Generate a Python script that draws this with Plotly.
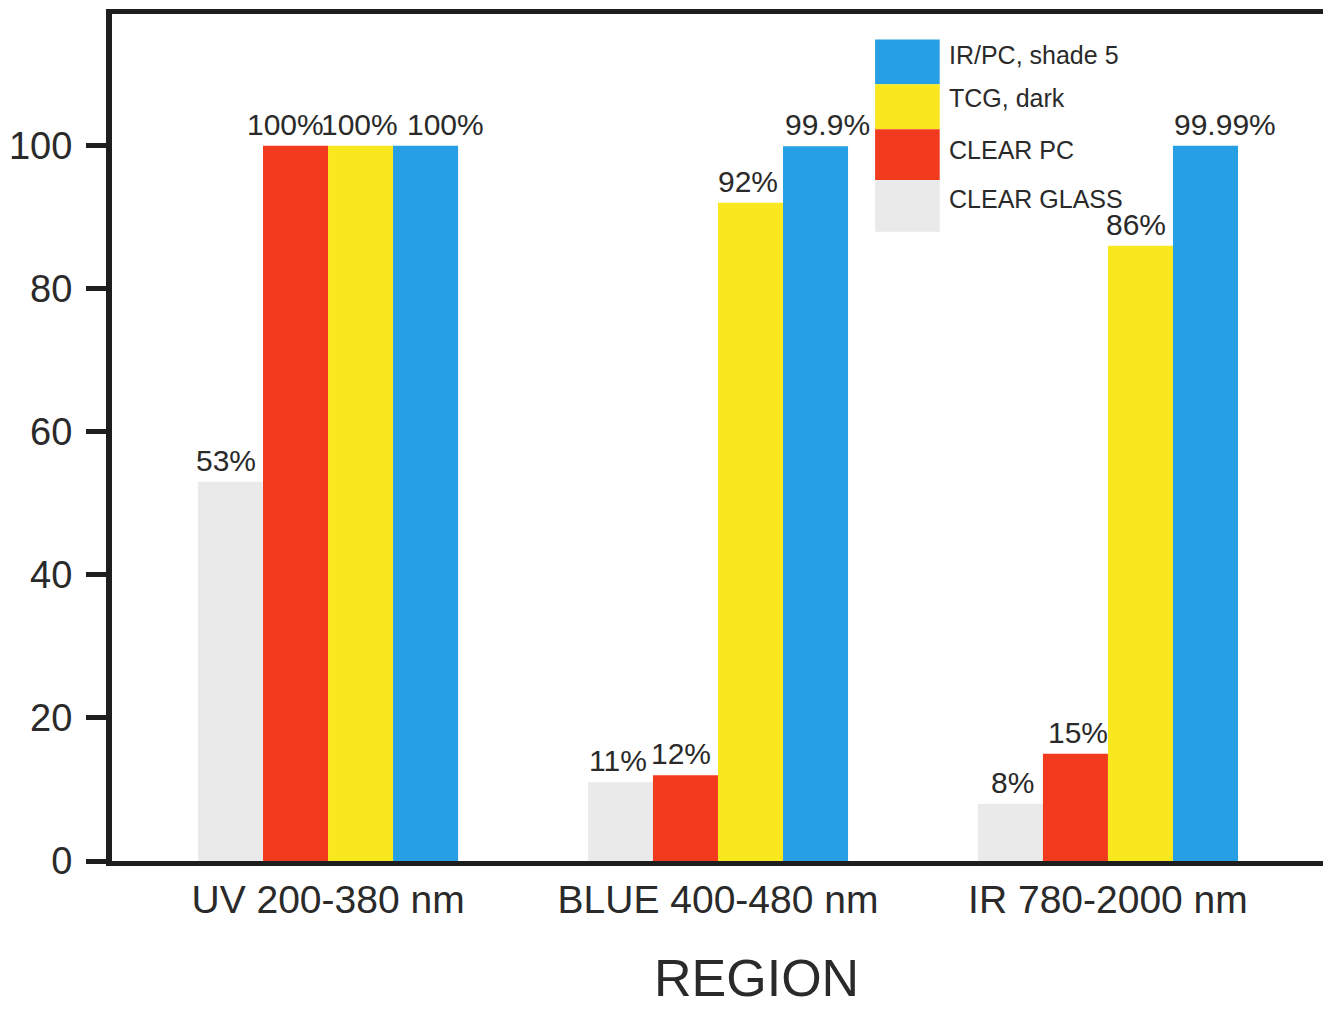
import plotly.graph_objects as go

categories = ["UV 200-380 nm", "BLUE 400-480 nm", "IR 780-2000 nm"]
series_names = ["CLEAR GLASS", "CLEAR PC", "TCG, dark", "IR/PC, shade 5"]
clear_glass = [53, 11, 8]
clear_pc = [100, 12, 15]
tcg_dark = [100, 92, 86]
ir_pc = [100, 99.9, 99.99]
y_ticks = [0, 20, 40, 60, 80, 100]

colors = ["#EAEAEA", "#F23A1E", "#F9E81E", "#269FE4"]
values = [clear_glass, clear_pc, tcg_dark, ir_pc]

# horizontal nudges (px) of value labels, per series, per category
label_nudge = [[-5, -2, 2], [-10, -4, 3], [-1, -3, -4], [20, 12, 20]]

FONT = "Liberation Sans, Arial, sans-serif"
TXT = "#2a2a2a"
AX = "#1e1e1e"

X_RANGE = [-0.554, 2.572]
PLOT_W = 1219
BARGAP = 0.333
px_per_cat = PLOT_W / (X_RANGE[1] - X_RANGE[0])
bar_px = px_per_cat * (1 - BARGAP) / len(series_names)

fig = go.Figure()
for name, vals, col in zip(series_names, values, colors):
    fig.add_trace(go.Bar(
        x=categories, y=vals, name=name,
        marker=dict(color=col, line=dict(width=0)),
        showlegend=False, hoverinfo="x+y+name",
    ))

# value labels
n = len(series_names)
for i, vals in enumerate(values):
    for j, v in enumerate(vals):
        fig.add_annotation(
            x=categories[j], y=v, xref="x", yref="y",
            text=f"{v:g}%", showarrow=False,
            xanchor="center", yanchor="bottom",
            xshift=(i - (n - 1) / 2) * bar_px + label_nudge[i][j], yshift=3,
            font=dict(family=FONT, size=30, color=TXT),
        )

# custom legend (large stacked swatches, reversed order)
sw_x0, sw_x1 = 0.626, 0.679
sw_edges = [0.970, 0.917, 0.864, 0.804, 0.743]
txt_y = [0.952, 0.901, 0.840, 0.781]
for i, (name, col) in enumerate(zip(series_names[::-1], colors[::-1])):
    y1, y0 = sw_edges[i], sw_edges[i + 1]
    fig.add_shape(type="rect", xref="paper", yref="paper",
                  x0=sw_x0, x1=sw_x1, y0=y0, y1=y1,
                  fillcolor=col, line=dict(width=0), layer="above")
    fig.add_annotation(xref="paper", yref="paper", x=0.685,
                       y=txt_y[i], text=name, showarrow=False,
                       xanchor="left", yanchor="middle",
                       font=dict(family=FONT, size=25, color=TXT))

fig.add_annotation(xref="paper", yref="paper", x=0.529, y=-0.1735,
                   text="REGION", showarrow=False, xanchor="center",
                   yanchor="bottom", borderpad=0,
                   font=dict(family=FONT, size=52, color=TXT))

fig.update_layout(
    width=1323, height=1001,
    margin=dict(l=104, r=0, t=6, b=148),
    paper_bgcolor="white", plot_bgcolor="white",
    barmode="group", bargap=BARGAP, bargroupgap=0,
    xaxis=dict(
        range=X_RANGE, showgrid=False, zeroline=False,
        showline=True, linecolor=AX, linewidth=5, mirror=True,
        ticks="", ticklabelstandoff=0,
        tickfont=dict(family=FONT, size=39, color=TXT),
    ),
    yaxis=dict(
        range=[0, 118.4], tickvals=y_ticks, showgrid=False, zeroline=False,
        showline=True, linecolor=AX, linewidth=6, mirror=False,
        ticks="outside", ticklen=20, tickwidth=5, tickcolor=AX,
        ticklabelstandoff=6,
        tickfont=dict(family=FONT, size=38, color=TXT),
    ),
)

fig.write_html("out.html")
